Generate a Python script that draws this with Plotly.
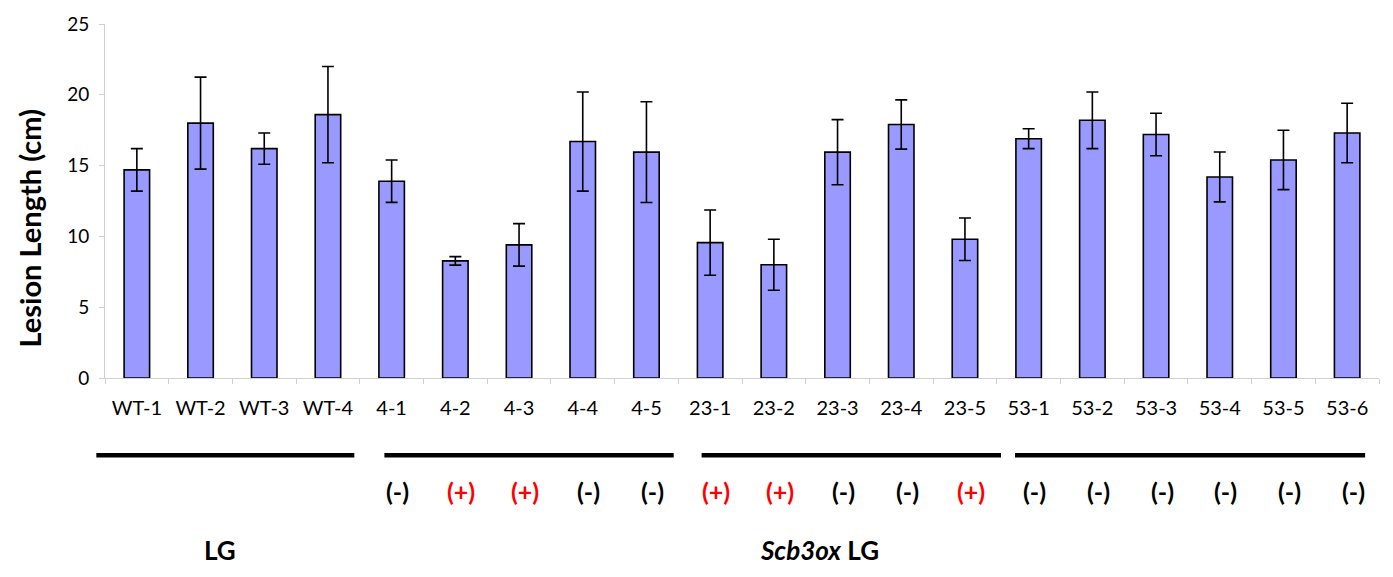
import plotly.graph_objects as go

categories = ["WT-1", "WT-2", "WT-3", "WT-4", "4-1", "4-2", "4-3", "4-4", "4-5",
              "23-1", "23-2", "23-3", "23-4", "23-5",
              "53-1", "53-2", "53-3", "53-4", "53-5", "53-6"]
lesion = [14.7, 18.0, 16.2, 18.6, 13.9, 8.27, 9.4, 16.7, 15.95,
          9.56, 8.0, 15.95, 17.9, 9.8,
          16.9, 18.2, 17.2, 14.2, 15.4, 17.3]
err = [1.5, 3.25, 1.1, 3.4, 1.5, 0.3, 1.5, 3.5, 3.56,
       2.3, 1.8, 2.3, 1.74, 1.5,
       0.7, 2.0, 1.5, 1.76, 2.1, 2.1]
signs = ["", "", "", "", "(-)", "(+)", "(+)", "(-)", "(-)",
         "(+)", "(+)", "(-)", "(-)", "(+)",
         "(-)", "(-)", "(-)", "(-)", "(-)", "(-)"]
y_ticks = [0, 5, 10, 15, 20, 25]

FONT = "Lato"
W, H = 1393, 577
ML, MR, MT, MB = 105, 14, 17, 199

fig = go.Figure()
fig.add_trace(go.Bar(
    x=categories, y=lesion,
    marker=dict(color="#9999FF", line=dict(color="black", width=1.6)),
    width=0.4,
    error_y=dict(type="data", array=err, visible=True, color="black",
                 thickness=1.6, width=6),
))

annotations = []
annotations.append(dict(text="<b>Lesion Length (cm)</b>", xref="paper", yref="paper",
                        x=-0.059, y=0.422, textangle=-90, showarrow=False,
                        font=dict(family=FONT, size=29, color="black"),
                        xanchor="center", yanchor="middle"))
for c, s in zip(categories, signs):
    if s:
        annotations.append(dict(text="<b>%s</b>" % s, xref="x", yref="paper", x=c,
                                y=-0.3205, showarrow=False, xshift=6,
                                font=dict(family=FONT, size=25,
                                          color="#FF0000" if s == "(+)" else "black"),
                                xanchor="center", yanchor="middle"))
annotations.append(dict(text="<b>LG</b>", xref="paper", yref="paper", x=0.0901, y=-0.485,
                        showarrow=False, font=dict(family=FONT, size=26, color="black"),
                        xanchor="center", yanchor="middle"))
annotations.append(dict(text="<b><i>Scb3ox</i> LG</b>", xref="paper", yref="paper", x=0.561,
                        y=-0.485, showarrow=False, font=dict(family=FONT, size=26, color="black"),
                        xanchor="center", yanchor="middle"))

shapes = []
for x0, x1 in [(-0.0068, 0.1957), (0.2193, 0.4464), (0.4683, 0.7033), (0.7143, 0.9891)]:
    shapes.append(dict(type="line", xref="paper", yref="paper", x0=x0, x1=x1,
                       y0=-0.218, y1=-0.218, line=dict(color="black", width=4.5)))

fig.update_layout(
    width=W, height=H,
    margin=dict(l=ML, r=MR, t=MT, b=MB),
    plot_bgcolor="white", paper_bgcolor="white",
    showlegend=False,
    bargap=0.6,
    annotations=annotations,
    shapes=shapes,
    font=dict(family=FONT, size=18, color="black"),
)
fig.update_xaxes(
    type="category", range=[-0.5, 19.5],
    showline=True, linecolor="#d0d0d0", linewidth=1,
    ticks="outside", tickson="boundaries", ticklen=5, tickcolor="#d0d0d0",
    tickfont=dict(family=FONT, size=20, color="black"),
    ticklabelstandoff=12,
    showgrid=False,
)
fig.update_yaxes(
    range=[0, 25], tickvals=y_ticks,
    showline=True, linecolor="#d0d0d0", linewidth=1,
    ticks="outside", ticklen=5, tickcolor="#d0d0d0",
    tickfont=dict(family=FONT, size=19, color="black"),
    ticklabelstandoff=6,
    showgrid=False, zeroline=False,
)

fig.write_html("out.html", config={"displayModeBar": False},
               post_script="document.body.style.margin='0';document.body.style.overflow='hidden';")
